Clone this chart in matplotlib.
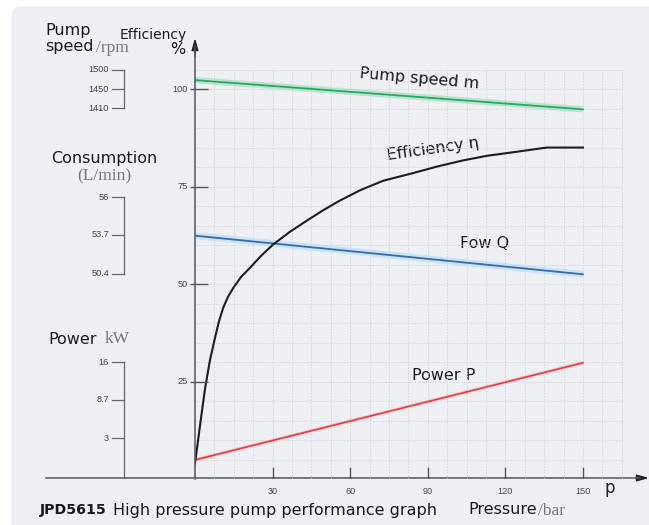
import matplotlib
matplotlib.use("Agg")
import matplotlib.pyplot as plt
from matplotlib.patches import FancyBboxPatch
from matplotlib.transforms import blended_transform_factory as blend

# ---------------- data ----------------
pressure_ticks = [30, 60, 90, 120, 150]
pct_ticks = [25, 50, 75, 100]

line_p = [0, 150]
speed_pct = [102.3, 94.8]
flow_pct = [62.4, 52.5]
power_pct = [4.9, 29.8]

eff_p = [0, 2.0, 3.9, 5.8, 7.7, 9.3, 10.9, 12.8, 14.8, 17.8, 21.3, 25.5, 30.3,
         36.5, 43.1, 49.5, 56, 64, 72.8, 84, 94, 103.6, 113, 123, 136, 150]
eff_pct = [4, 14, 23.3, 30.5, 36.1, 40.5, 43.9, 46.8, 49.0, 51.8, 54.2, 57.2, 60.2,
           63.3, 66.2, 68.9, 71.4, 74.1, 76.5, 78.4, 80.2, 81.7, 82.9, 83.8, 85, 85]

speed_labels = ["1500", "1450", "1410"]
speed_pos = [104.9, 100, 95.1]
flow_labels = ["56", "53.7", "50.4"]
flow_pos = [72.3, 62.6, 52.6]
power_labels = ["16", "8.7", "3"]
power_pos = [30, 20.3, 10.5]

W, H = 649, 525
fig = plt.figure(figsize=(W / 100, H / 100), dpi=100)
fig.patch.set_facecolor("white")

# background overlay in pixel coords
bg = fig.add_axes([0, 0, 1, 1])
bg.set_xlim(0, W)
bg.set_ylim(H, 0)
bg.axis("off")
bg.add_patch(FancyBboxPatch((12, 7), W + 20, H + 20,
                            boxstyle="round,pad=0,rounding_size=10",
                            fc="#eff0f4", ec="#e6e7eb", lw=0.6))

# main axes
x0, x1, ytop, ybot = 195, 645, 38, 479
ax = fig.add_axes([x0 / W, 1 - ybot / H, (x1 - x0) / W, (ybot - ytop) / H])
ax.set_xlim(0, 174)
ax.set_ylim(0, 113.1)
ax.patch.set_alpha(0)
for s in ax.spines.values():
    s.set_visible(False)
ax.set_xticks([])
ax.set_yticks([])

# grid
gkw = dict(color="#d2d4d9", lw=0.6, ls=(0, (2, 1.5)), zorder=1)
gx = [7.5 * i for i in range(1, 23)]
gy = [5 * i for i in range(1, 22)]
ax.vlines(gx, 0, 105, **gkw)
ax.hlines(gy, 0, 165.5, **gkw)

# curves with halos
ax.plot(line_p, speed_pct, color="#a6e0be", lw=4.5, alpha=0.7, zorder=2, solid_capstyle="butt")
ax.plot(line_p, speed_pct, color="#2aa869", lw=1.3, zorder=3)
ax.plot(line_p, flow_pct, color="#c4e3f8", lw=5, alpha=0.9, zorder=2, solid_capstyle="butt")
ax.plot(line_p, flow_pct, color="#3c6aa3", lw=1.3, zorder=3)
ax.plot(line_p, power_pct, color="#f4c0c7", lw=3, alpha=0.5, zorder=2, solid_capstyle="butt")
ax.plot(line_p, power_pct, color="#e5404f", lw=1.3, zorder=3)
ax.plot(eff_p, eff_pct, color="#1e1e1e", lw=1.5, zorder=4)

# main axes lines with arrows
axis_col = "#555555"
ax.plot([0, 0], [0, 111], color=axis_col, lw=1.1, clip_on=False, zorder=5)
ax.annotate("", xy=(0, 113.1), xytext=(0, 108.5), annotation_clip=False,
            arrowprops=dict(arrowstyle="-|>,head_length=0.7,head_width=0.2",
                            color="#222", lw=1.1, shrinkA=0, shrinkB=0))
bg.plot([46, 640], [478, 478], color=axis_col, lw=1.1, zorder=5)
bg.annotate("", xy=(649, 478), xytext=(636, 478), annotation_clip=False,
            arrowprops=dict(arrowstyle="-|>,head_length=0.7,head_width=0.2",
                            color="#222", lw=1.1, shrinkA=0, shrinkB=0))

tick_font = dict(family="Liberation Sans", fontsize=6.6, color="#444")
ta = blend(bg.transData, ax.transData)
# y ticks crossing axis
for v in pct_ticks:
    ax.plot([190, 208], [v, v], transform=ta, color=axis_col, lw=1.0,
            clip_on=False, zorder=6, solid_capstyle="butt")
    bg.text(188, v, str(v), transform=ta, ha="right", va="center", **tick_font)
# x ticks upward
for v in pressure_ticks:
    ax.plot([v, v], [0, 2.8], color=axis_col, lw=1.0, zorder=5)
    ax.text(v, -3.2, str(v), ha="center", va="center", **tick_font)
bg.text(610, 488, "p", fontsize=12, family="DejaVu Sans", color="#222", ha="center", va="center")

# left auxiliary scales
def aux_scale(labels, pos, bottom=None):
    lo = min(pos) if bottom is None else bottom
    bg.plot([124, 124], [lo, max(pos)], transform=ta, color="#666", lw=0.9)
    for lab, p in zip(labels, pos):
        bg.plot([112, 124], [p, p], transform=ta, color="#666", lw=0.9)
        bg.text(109, p, lab, transform=ta, ha="right", va="center", **tick_font)

aux_scale(speed_labels, speed_pos)
aux_scale(flow_labels, flow_pos)
aux_scale(power_labels, power_pos, bottom=0.3)

# titles
sans = dict(family="DejaVu Sans", fontsize=11.5, color="#1a1a1a")
serif = dict(family="Liberation Serif", fontsize=12.5, color="#777")
bg.text(45, 30, "Pump", ha="left", va="center", **sans)
bg.text(45, 47, "speed", ha="left", va="center", **sans)
bg.text(96, 48, "/rpm", ha="left", va="center", **serif)
bg.text(120, 35, "Efficiency", ha="left", va="center",
        **{**sans, "fontsize": 10})
bg.text(178, 50, "%", ha="center", va="center", **sans)
bg.text(104, 158, "Consumption", ha="center", va="center", **sans)
bg.text(104, 176, "(L/min)", ha="center", va="center", **serif)
bg.text(48, 339, "Power", ha="left", va="center", **sans)
bg.text(105, 339, "kW", ha="left", va="center", **serif)

bg.text(40, 510, "JPD5615", ha="left", va="center", weight="bold",
        **{**sans, "fontsize": 10.2})
bg.text(113, 510, "High pressure pump performance graph", ha="left", va="center", **sans)
bg.text(468, 510, "Pressure", ha="left", va="center", **sans)
bg.text(538, 511, "/bar", ha="left", va="center", **serif)

# curve labels
bg.text(419, 79, "Pump speed m", ha="center", va="center", rotation=-5, **sans)
bg.text(433, 149, "Efficiency η", ha="center", va="center", rotation=8, **sans)
bg.text(485, 243, "Fow Q", ha="center", va="center", **sans)
bg.text(444, 375, "Power P", ha="center", va="center", **sans)

fig.savefig("out.png", dpi=100, facecolor=fig.get_facecolor())
